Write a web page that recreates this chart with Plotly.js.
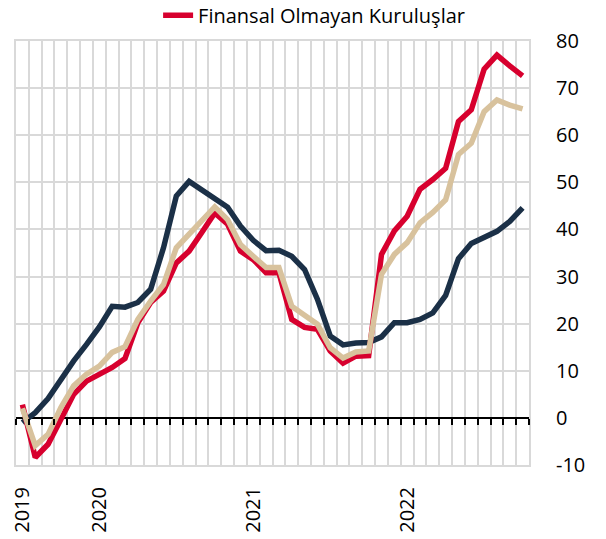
<!DOCTYPE html>
<html>
<head>
<meta charset="utf-8">
<script src="https://cdn.plot.ly/plotly-3.0.1.min.js"></script>
<style>html,body{margin:0;padding:0;background:#fff;}#chart{width:606px;height:539px;}</style>
</head>
<body>
<div id="chart"></div>
<script>
// Months: Jul 2019 .. Oct 2022
const months = [
  "2019-07","2019-08","2019-09","2019-10","2019-11","2019-12",
  "2020-01","2020-02","2020-03","2020-04","2020-05","2020-06","2020-07","2020-08","2020-09","2020-10","2020-11","2020-12",
  "2021-01","2021-02","2021-03","2021-04","2021-05","2021-06","2021-07","2021-08","2021-09","2021-10","2021-11","2021-12",
  "2022-01","2022-02","2022-03","2022-04","2022-05","2022-06","2022-07","2022-08","2022-09","2022-10"
];
const yearLabelMonths = ["2019-07","2020-01","2021-01","2022-01"];
const yearLabels = ["2019","2020","2021","2022"];
const yTickVals = [-10,0,10,20,30,40,50,60,70,80];
const yTickText = ["-10","0","10","20","30","40","50","60","70","80"];

const seriesRedName = "Finansal Olmayan Kuruluşlar";
const seriesRed = [2.8,-8.4,-5.6,-0.3,5.0,7.8,9.3,10.7,12.6,20.2,24.5,26.9,32.9,35.4,39.4,43.5,41.1,35.4,33.6,30.8,30.8,20.9,19.2,18.8,14.2,11.6,13.1,13.2,34.7,39.7,42.8,48.5,50.6,53.0,62.9,65.4,74.0,77.0,74.7,72.6];
const seriesTan = [2.0,-5.9,-3.5,2.2,6.8,9.3,11.0,13.9,15.1,20.9,24.8,28.3,36.1,38.9,41.8,44.8,42.1,36.8,34.3,31.9,31.9,23.7,21.8,19.9,14.9,12.7,14.0,14.2,30.5,34.7,37.2,41.4,43.6,46.3,55.9,58.3,65.0,67.5,66.4,65.6];
const seriesNavy = [-1.0,1.1,4.1,8.2,12.1,15.6,19.3,23.7,23.5,24.5,27.3,36.1,47.1,50.2,48.3,46.7,44.7,40.7,37.7,35.5,35.6,34.3,31.5,25.2,17.4,15.5,15.9,16.0,17.2,20.2,20.2,20.9,22.3,26.0,33.8,37.0,38.2,39.6,41.7,44.6];

const idx = months.map((m, i) => i);
const labelIdx = yearLabelMonths.map(m => months.indexOf(m));

const FONT = "Open Sans";
const colors = {red: "#d7002e", tan: "#d8c29d", navy: "#1b3047"};

const traces = [
  {x: idx, y: seriesNavy, type: "scatter", mode: "lines", showlegend: false, hoverinfo: "skip",
   line: {color: colors.navy, width: 5.5, shape: "linear"}},
  {x: idx, y: seriesRed, type: "scatter", mode: "lines", name: seriesRedName, showlegend: true,
   line: {color: colors.red, width: 5.5}},
  {x: idx, y: seriesTan, type: "scatter", mode: "lines", showlegend: false, hoverinfo: "skip",
   line: {color: colors.tan, width: 5.5}},
  // carrier for the label axis (invisible)
  {x: idx, y: seriesNavy, xaxis: "x2", type: "scatter", mode: "lines", showlegend: false, hoverinfo: "skip",
   line: {color: "rgba(0,0,0,0)", width: 0}}
];

const n = months.length;
const zeroPos = (0 - (-10)) / (80 - (-10));

const layout = {
  width: 606, height: 539,
  margin: {l: 16, r: 77, t: 41, b: 74, pad: 0, autoexpand: false},
  paper_bgcolor: "#ffffff", plot_bgcolor: "#ffffff",
  font: {family: FONT, size: 20, color: "#000"},
  showlegend: true,
  legend: {orientation: "h", x: 0.277, xanchor: "left", y: 1.061, yanchor: "middle",
           font: {family: FONT, size: 20, color: "#000"}, bgcolor: "rgba(0,0,0,0)", borderwidth: 0},
  xaxis: {
    range: [-0.5, n - 0.5], anchor: "free", position: zeroPos,
    tickmode: "linear", tick0: -0.5, dtick: 1,
    showgrid: true, gridcolor: "#d9d9d9", gridwidth: 2,
    ticks: "outside", ticklen: 6, tickwidth: 2, tickcolor: "#000",
    showticklabels: false, showline: false, zeroline: false
  },
  xaxis2: {
    overlaying: "x", matches: "x", anchor: "y", side: "bottom",
    range: [-0.5, n - 0.5],
    tickmode: "array", tickvals: labelIdx, ticktext: yearLabels,
    tickangle: -90, ticks: "", ticklabelstandoff: 12,
    tickfont: {family: FONT, size: 20, color: "#000"},
    showgrid: false, zeroline: false,
    showline: true, linecolor: "#d9d9d9", linewidth: 2, mirror: true
  },
  yaxis: {
    range: [-10, 80], side: "right", tickmode: "array", tickvals: yTickVals, ticktext: yTickText,
    showgrid: true, gridcolor: "#d9d9d9", gridwidth: 2,
    zeroline: true, zerolinecolor: "#000", zerolinewidth: 2,
    showline: true, linecolor: "#d9d9d9", linewidth: 2, mirror: true,
    ticks: "", ticklabelstandoff: 21,
    tickfont: {family: FONT, size: 20, color: "#000"}
  }
};

Plotly.newPlot("chart", traces, layout, {displayModeBar: false, staticPlot: true});
</script>
</body>
</html>
